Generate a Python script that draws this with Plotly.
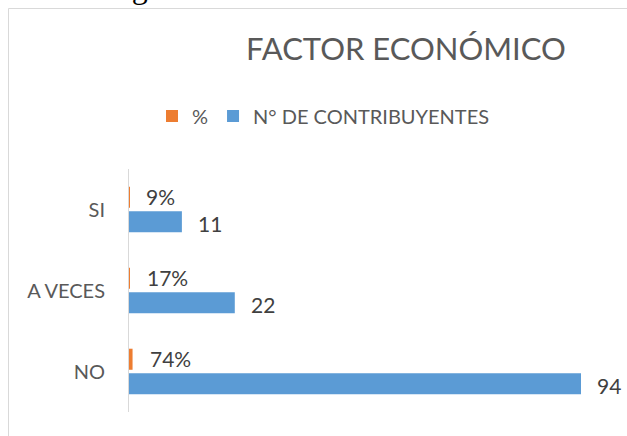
import plotly.graph_objects as go

categories = ["SI", "A VECES", "NO"]
contribuyentes = [11, 22, 94]
porcentaje = [0.09, 0.17, 0.74]
pct_labels = ["9%", "17%", "74%"]

W, H = 627, 436
ML, MR, MT, MB = 129, 0, 169, 24
PW = W - ML - MR
PH = H - MT - MB

def px_x(p):
    return (p - ML) / PW

def px_y(p):
    return (H - MB - p) / PH

BLUE = "#5b9bd5"
ORANGE = "#ed7d31"
FONT = "Lato, 'Open Sans', sans-serif"

fig = go.Figure()
fig.add_trace(go.Bar(
    y=categories, x=porcentaje, orientation="h", name="%",
    marker=dict(color=ORANGE, line=dict(width=0)),
))
fig.add_trace(go.Bar(
    y=categories, x=contribuyentes, orientation="h", name="N° DE CONTRIBUYENTES",
    marker=dict(color=BLUE, line=dict(width=0)),
))

annotations = []
for c, v, t in zip(categories, porcentaje, pct_labels):
    annotations.append(dict(x=v, y=c, xref="x", yref="y", text=t, showarrow=False,
                            xanchor="left", yanchor="middle", xshift=15, yshift=13,
                            font=dict(family=FONT, size=21, color="#404040")))
for c, v in zip(categories, contribuyentes):
    annotations.append(dict(x=v, y=c, xref="x", yref="y", text=str(v), showarrow=False,
                            xanchor="left", yanchor="middle", xshift=14, yshift=-14,
                            font=dict(family=FONT, size=21, color="#404040")))

annotations.append(dict(x=px_x(406), y=px_y(48), xref="paper", yref="paper",
                        text="FACTOR ECONÓMICO", showarrow=False,
                        xanchor="center", yanchor="middle",
                        font=dict(family=FONT, size=31, color="#595959")))
annotations.append(dict(x=px_x(103), y=px_y(7), xref="paper", yref="paper",
                        text="Figura 3. Factor Económico", showarrow=False,
                        xanchor="left", yanchor="bottom",
                        font=dict(family="Liberation Serif, serif", size=32, color="#000000")))

shapes = [dict(type="rect", xref="paper", yref="paper",
               x0=px_x(8.5), x1=px_x(660), y0=px_y(470), y1=px_y(8.5),
               line=dict(color="#d9d9d9", width=1), fillcolor="rgba(0,0,0,0)", layer="below")]

fig.update_layout(
    width=W, height=H,
    margin=dict(l=ML, r=MR, t=MT, b=MB, pad=0),
    paper_bgcolor="white", plot_bgcolor="white",
    barmode="group", bargap=0.395, bargroupgap=0.14,
    showlegend=True,
    legend=dict(orientation="h", x=px_x(152), y=px_y(116), xanchor="left", yanchor="middle",
                font=dict(family=FONT, size=20, color="#595959"), traceorder="normal",
                bgcolor="rgba(0,0,0,0)"),
    annotations=annotations,
    shapes=shapes,
    xaxis=dict(range=[0, PW / (452 / 94)], visible=False, showgrid=False, zeroline=False),
    yaxis=dict(autorange="reversed", showline=True, linecolor="#d9d9d9", linewidth=1,
               showgrid=False, zeroline=False, ticks="", ticklabelstandoff=19,
               tickfont=dict(family=FONT, size=20, color="#595959")),
)

fig.write_html("out.html", config={"displayModeBar": False},
               post_script="document.body.style.margin='0';document.body.style.overflow='hidden';")
